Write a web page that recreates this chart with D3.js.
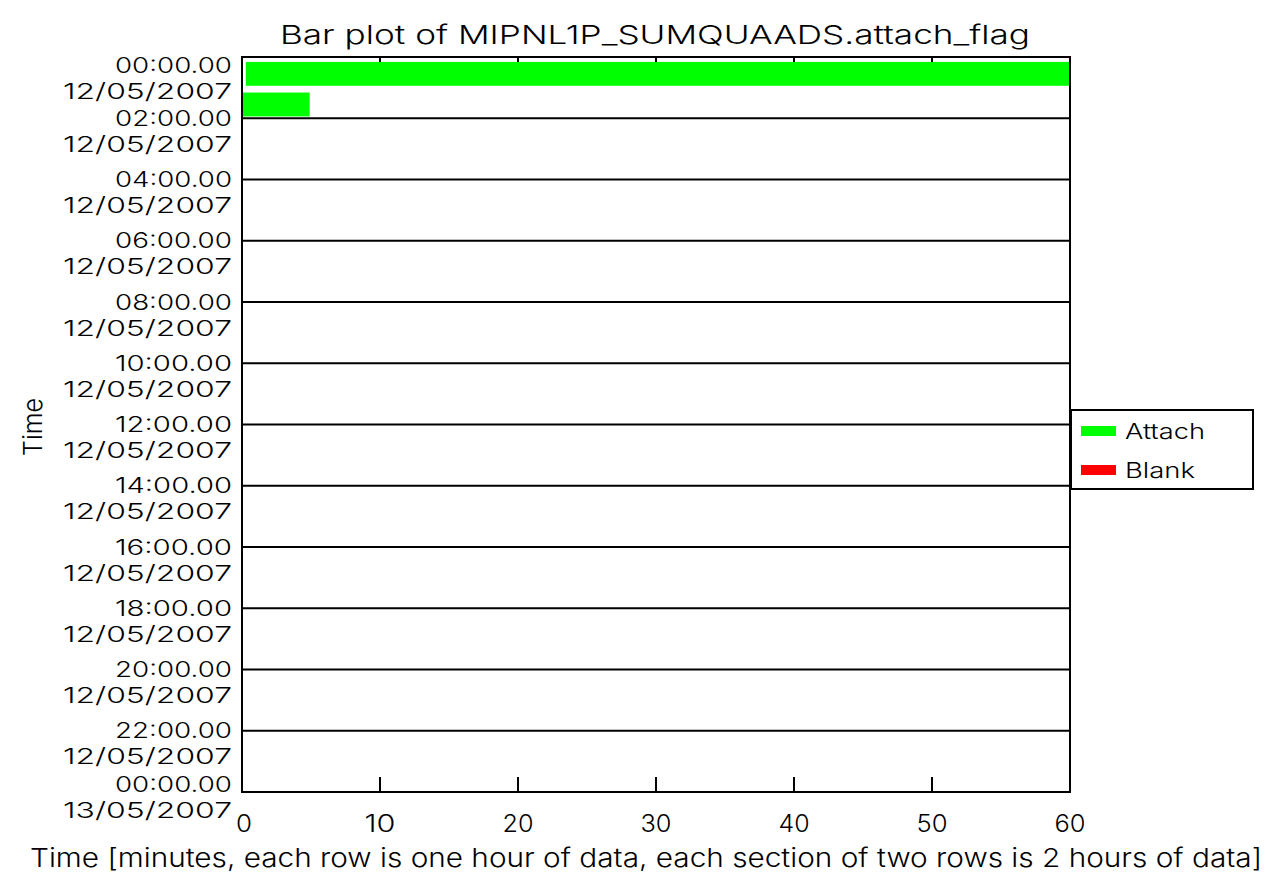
<!DOCTYPE html>
<html>
<head>
<meta charset="utf-8">
<script src="https://cdn.jsdelivr.net/npm/d3@7"></script>
<style>
  html, body { margin: 0; padding: 0; background: #fff; }
  svg { display: block; }
  text { font-family: Inter, "DejaVu Sans", sans-serif; font-weight: 300; fill: #000; }
</style>
</head>
<body>
<svg id="chart" width="1284" height="875"></svg>
<script>
// ---- data ----
const title = "Bar plot of MIPNL1P_SUMQUAADS.attach_flag";
const xTitle = "Time [minutes, each row is one hour of data, each section of two rows is 2 hours of data]";
const yTitle = "Time";
const xTicks = [0, 10, 20, 30, 40, 50, 60];
const sectionTimes = ["00:00.00","02:00.00","04:00.00","06:00.00","08:00.00","10:00.00","12:00.00","14:00.00","16:00.00","18:00.00","20:00.00","22:00.00","00:00.00"];
const sectionDates = ["12/05/2007","12/05/2007","12/05/2007","12/05/2007","12/05/2007","12/05/2007","12/05/2007","12/05/2007","12/05/2007","12/05/2007","12/05/2007","12/05/2007","13/05/2007"];
const barRow   = [0, 1];          // hour row index (0..23)
const barStart = [0.28, 0];       // minutes
const barEnd   = [60, 4.9];       // minutes
const barType  = ["Attach", "Attach"];
const legendNames  = ["Attach", "Blank"];
const legendColors = ["#00ff00", "#ff0000"];

// ---- layout ----
const svg = d3.select("#chart");
const L = 242, R = 1070, T = 57, B = 792;
const x = d3.scaleLinear().domain([0, 60]).range([L, R]);
const y = d3.scaleLinear().domain([0, 24]).range([T, B]);
const color = d3.scaleOrdinal().domain(legendNames).range(legendColors);

// Title
svg.append("text").attr("x", 655).attr("y", 35).attr("dy", "0.35em")
  .attr("text-anchor", "middle").attr("font-size", 26)
  .attr("textLength", 750).attr("lengthAdjust", "spacingAndGlyphs")
  .text(title);

// ticks (inward, top and bottom)
const tickLen = 15;
const tg = svg.append("g");
xTicks.forEach(v => {
  tg.append("line").attr("x1", x(v)).attr("x2", x(v)).attr("y1", B).attr("y2", B - tickLen)
    .attr("stroke", "#000").attr("stroke-width", 2);
  tg.append("line").attr("x1", x(v)).attr("x2", x(v)).attr("y1", T).attr("y2", T + tickLen)
    .attr("stroke", "#000").attr("stroke-width", 2);
});

// section lines
const sections = d3.range(0, 25, 2);
svg.append("g").selectAll("line").data(sections).join("line")
  .attr("x1", L).attr("x2", R)
  .attr("y1", d => y(d)).attr("y2", d => y(d))
  .attr("stroke", "#000").attr("stroke-width", 2);

// bars
svg.append("g").selectAll("rect").data(barRow.map((r, i) => i)).join("rect")
  .attr("x", i => x(barStart[i]))
  .attr("width", i => x(barEnd[i]) - x(barStart[i]))
  .attr("y", i => y(barRow[i] + 0.16))
  .attr("height", i => y(barRow[i] + 0.94) - y(barRow[i] + 0.16))
  .attr("fill", i => color(barType[i]));

// frame
svg.append("line").attr("x1", L).attr("x2", L).attr("y1", T - 1).attr("y2", B + 1)
  .attr("stroke", "#000").attr("stroke-width", 2);
svg.append("line").attr("x1", R).attr("x2", R).attr("y1", T - 1).attr("y2", B + 1)
  .attr("stroke", "#000").attr("stroke-width", 2);

// y labels
const yl = svg.append("g");
sections.forEach((h, i) => {
  let ty = y(h);
  if (i === 0) ty = y(h) + 8;
  if (i === sections.length - 1) ty = y(h) - 8;
  yl.append("text").attr("x", 232).attr("y", ty).attr("dy", "0.35em")
    .attr("text-anchor", "end").attr("font-size", 22)
    .attr("textLength", 117).attr("lengthAdjust", "spacingAndGlyphs")
    .text(sectionTimes[i]);
  yl.append("text").attr("x", 232).attr("y", ty + 26).attr("dy", "0.35em")
    .attr("text-anchor", "end").attr("font-size", 22)
    .attr("textLength", 169).attr("lengthAdjust", "spacingAndGlyphs")
    .text(sectionDates[i]);
});

// x tick labels
svg.append("g").selectAll("text").data(xTicks).join("text")
  .attr("x", d => x(d) + (d === 0 ? 2 : 0)).attr("y", 824).attr("dy", "0.35em")
  .attr("text-anchor", "middle").attr("font-size", 24)
  .attr("textLength", d => String(d).length === 1 ? 16 : 31)
  .attr("lengthAdjust", "spacingAndGlyphs")
  .text(d => d);

// x title
svg.append("text").attr("x", 646).attr("y", 858).attr("dy", "0.35em")
  .attr("text-anchor", "middle").attr("font-size", 26)
  .attr("textLength", 1232).attr("lengthAdjust", "spacingAndGlyphs")
  .text(xTitle);

// y title
svg.append("text").attr("transform", "translate(33,427) rotate(-90)")
  .attr("dy", "0.35em").attr("text-anchor", "middle").attr("font-size", 26)
  .attr("textLength", 58).attr("lengthAdjust", "spacingAndGlyphs")
  .text(yTitle);

// legend
const lg = svg.append("g");
lg.append("rect").attr("x", 1071).attr("y", 410).attr("width", 182).attr("height", 79)
  .attr("fill", "#fff").attr("stroke", "#000").attr("stroke-width", 2);
const legendWidths = [80, 70];
legendNames.forEach((n, i) => {
  const cy = 431 + i * 39;
  lg.append("rect").attr("x", 1081).attr("y", cy - 5).attr("width", 35).attr("height", 10)
    .attr("fill", legendColors[i]);
  lg.append("text").attr("x", 1125).attr("y", cy).attr("dy", "0.35em")
    .attr("font-size", 22)
    .attr("textLength", legendWidths[i]).attr("lengthAdjust", "spacingAndGlyphs")
    .text(n);
});
</script>
</body>
</html>
